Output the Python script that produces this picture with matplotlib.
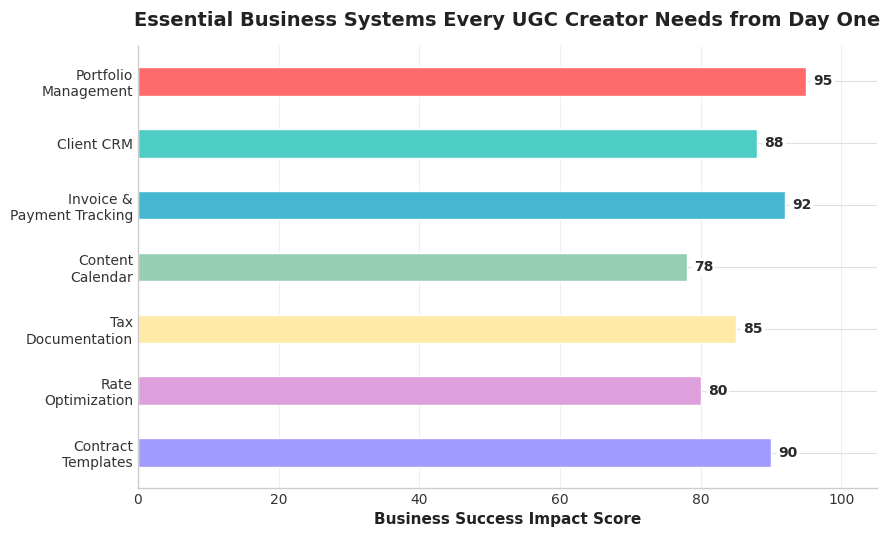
import matplotlib.pyplot as plt
import seaborn as sns

# data, top to bottom as shown
systems = [
    "Portfolio\nManagement",
    "Client CRM",
    "Invoice &\nPayment Tracking",
    "Content\nCalendar",
    "Tax\nDocumentation",
    "Rate\nOptimization",
    "Contract\nTemplates",
]
scores = [95, 88, 92, 78, 85, 80, 90]
colors = ["#FF6B6B", "#4ECDC4", "#45B7D1", "#96CEB4", "#FFEAA7", "#DDA0DD", "#A29BFE"]

sns.set_style("whitegrid")
plt.rcParams["font.family"] = ["DejaVu Sans"]

fig, ax = plt.subplots(figsize=(8.9, 5.36), dpi=100)

ypos = list(range(len(systems)))[::-1]
ax.barh(ypos, scores, height=0.46, color=colors, zorder=2)

for y, v in zip(ypos, scores):
    ax.text(v + 1, y, str(v), va="center", ha="left", fontsize=10, fontweight="bold",
            color="#2a2a2a", zorder=3,
            bbox=dict(facecolor="white", edgecolor="none", pad=1.5))

ax.set_yticks(ypos)
ax.set_yticklabels(systems, fontsize=10, color="#333333")
ax.set_xlim(0, 105)
ax.set_ylim(-0.57, 6.58)
ax.set_xticks([0, 20, 40, 60, 80, 100])
ax.tick_params(axis="x", labelsize=10, colors="#333333")
ax.tick_params(axis="both", length=0)

ax.set_xlabel("Business Success Impact Score", fontsize=11, fontweight="bold", color="#222222")
ax.set_title("Essential Business Systems Every UGC Creator Needs from Day One",
             fontsize=14, fontweight="bold", color="#222222", pad=14)

ax.grid(axis="x", color="#cccccc", alpha=0.3, linewidth=0.8)
ax.grid(axis="y", color="#e0e0e0", alpha=1.0, linewidth=0.8)
ax.set_axisbelow(True)

for side in ("top", "right"):
    ax.spines[side].set_visible(False)
for side in ("left", "bottom"):
    ax.spines[side].set_color("#cccccc")
    ax.spines[side].set_linewidth(1.0)

fig.subplots_adjust(left=0.155, right=0.985, top=0.915, bottom=0.09)
fig.savefig("out.png")
